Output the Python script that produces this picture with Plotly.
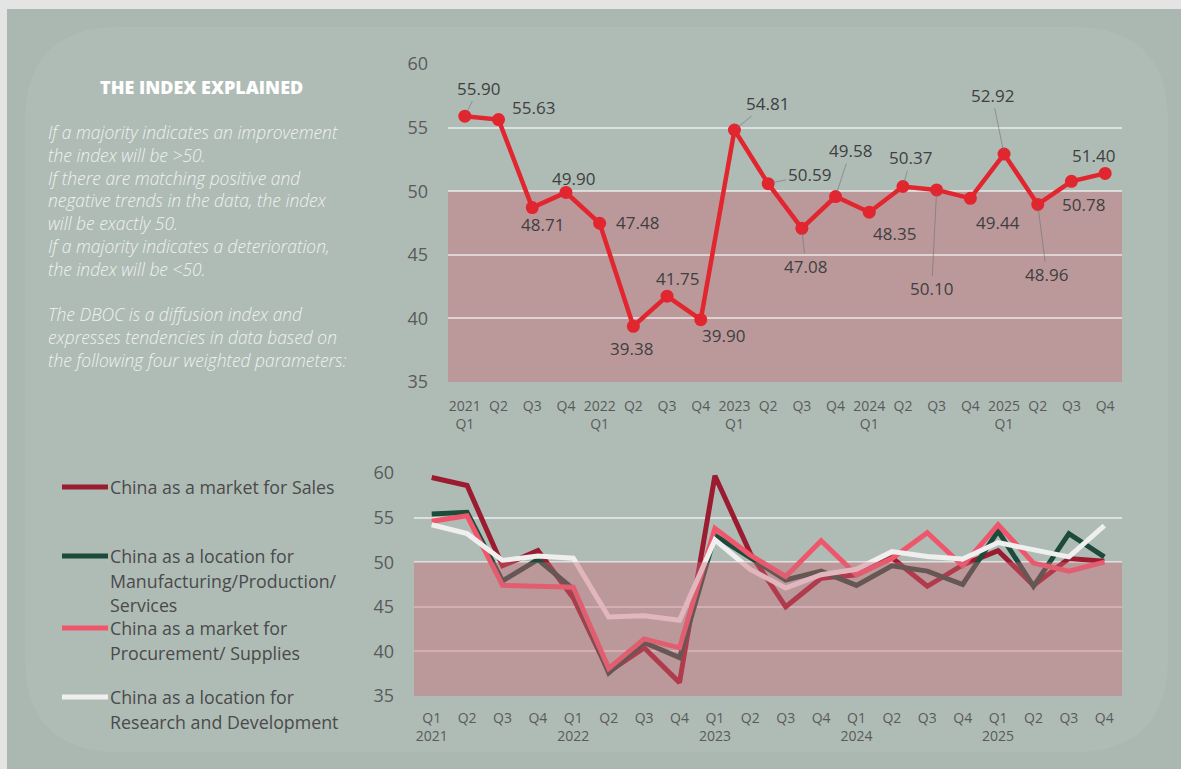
import plotly.graph_objects as go

W, H = 1181, 769

# ---------------- data ----------------
quarters = ["2021 Q1", "2021 Q2", "2021 Q3", "2021 Q4",
            "2022 Q1", "2022 Q2", "2022 Q3", "2022 Q4",
            "2023 Q1", "2023 Q2", "2023 Q3", "2023 Q4",
            "2024 Q1", "2024 Q2", "2024 Q3", "2024 Q4",
            "2025 Q1", "2025 Q2", "2025 Q3", "2025 Q4"]

top_ticktext = ["2021<br>Q1", "Q2", "Q3", "Q4", "2022<br>Q1", "Q2", "Q3", "Q4",
                "2023<br>Q1", "Q2", "Q3", "Q4", "2024<br>Q1", "Q2", "Q3", "Q4",
                "2025<br>Q1", "Q2", "Q3", "Q4"]
bottom_ticktext = ["Q1<br>2021", "Q2", "Q3", "Q4", "Q1<br>2022", "Q2", "Q3", "Q4",
                   "Q1<br>2023", "Q2", "Q3", "Q4", "Q1<br>2024", "Q2", "Q3", "Q4",
                   "Q1<br>2025", "Q2", "Q3", "Q4"]

dboc_index = [55.90, 55.63, 48.71, 49.90, 47.48, 39.38, 41.75, 39.90,
              54.81, 50.59, 47.08, 49.58, 48.35, 50.37, 50.10, 49.44,
              52.92, 48.96, 50.78, 51.40]

sales = [59.5, 58.6, 49.6, 51.3, 46.0, 37.7, 40.4, 36.5,
         59.7, 51.0, 45.0, 48.2, 48.6, 50.5, 47.3, 49.7,
         51.3, 47.4, 50.4, 50.1]
manufacturing = [55.4, 55.6, 47.9, 50.3, 47.0, 37.6, 41.0, 39.3,
                 53.0, 50.5, 48.0, 49.0, 47.4, 49.6, 49.0, 47.5,
                 53.5, 47.3, 53.2, 50.6]
procurement = [54.6, 55.2, 47.4, 47.3, 47.2, 38.1, 41.4, 40.4,
               53.8, 50.8, 48.4, 52.4, 48.6, 50.4, 53.3, 49.6,
               54.2, 49.9, 49.0, 50.0]
research = [54.2, 53.2, 50.2, 50.7, 50.45, 43.85, 44.0, 43.5,
            52.5, 49.2, 47.1, 48.6, 49.2, 51.2, 50.65, 50.35,
            52.2, 51.4, 50.6, 54.1]

series_names = [["China as a market for Sales"],
                ["China as a location for", "Manufacturing/Production/", "Services"],
                ["China as a market for", "Procurement/ Supplies"],
                ["China as a location for", "Research and Development"]]
series_values = [sales, manufacturing, procurement, research]
series_colors = ["#9b1b30", "#1d4b3b", "#ef566b", "#efefef"]

y_ticks = [35, 40, 45, 50, 55, 60]

# label offsets (pixels) and whether a leader line is drawn
label_dx = [14, 35, 10, 8, 38, -2, 10, 23, 33, 41, 4, 15, 25, 8, -5, 28, -12, 9, 12, -12]
label_dy = [-28, -12, 17, -14, -1, 22, -18, 16, -27, -9, 38, -46, 21, -29, 99, 24, -59, 70, 23, -18]
label_leader = [1, 0, 0, 0, 0, 0, 0, 0, 1, 1, 1, 1, 0, 1, 1, 0, 1, 1, 0, 0]

explain_title = "THE INDEX EXPLAINED"
explain_lines = ["If a majority indicates an improvement",
                 "the index will be >50.",
                 "If there are matching positive and",
                 "negative trends in the data, the index",
                 "will be exactly 50.",
                 "If a majority indicates a deterioration,",
                 "the index will be <50.",
                 "",
                 "The DBOC is a diffusion index and",
                 "expresses tendencies in data based on",
                 "the following four weighted parameters:"]


def px(x):
    return x / W


def py(y):
    return 1 - y / H


FONT = "Open Sans, Noto Sans, sans-serif"
TICK_COLOR = "#5a5a5a"

fig = go.Figure()

# top index line
fig.add_trace(go.Scatter(
    x=quarters, y=dboc_index, mode="lines+markers",
    line=dict(color="#e2262f", width=4.5),
    marker=dict(color="#e2262f", size=13),
    xaxis="x", yaxis="y", showlegend=False, hoverinfo="x+y"))

# bottom four series
for name, vals, col in zip(series_names, series_values, series_colors):
    fig.add_trace(go.Scatter(
        x=quarters, y=vals, mode="lines", name=" ".join(name),
        line=dict(color=col, width=5),
        xaxis="x2", yaxis="y2", showlegend=False))

shapes = []
# outer light frame
shapes.append(dict(type="rect", xref="paper", yref="paper",
                   x0=px(7), x1=1.0, y0=0.0, y1=py(9),
                   fillcolor="#abb8b2", line=dict(width=0), layer="below"))
# rounded panel
x0, x1, y0, y1, r = 25, 1168, 27, 752, 95
path = (f"M {px(x0 + r)},{py(y0)} L {px(x1 - r)},{py(y0)} "
        f"Q {px(x1)},{py(y0)} {px(x1)},{py(y0 + r)} "
        f"L {px(x1)},{py(y1 - r)} Q {px(x1)},{py(y1)} {px(x1 - r)},{py(y1)} "
        f"L {px(x0 + r)},{py(y1)} Q {px(x0)},{py(y1)} {px(x0)},{py(y1 - r)} "
        f"L {px(x0)},{py(y0 + r)} Q {px(x0)},{py(y0)} {px(x0 + r)},{py(y0)} Z")
shapes.append(dict(type="path", xref="paper", yref="paper", path=path,
                   fillcolor="rgba(255,255,255,0.06)", line=dict(width=0), layer="below"))
# pink "below 50" bands
shapes.append(dict(type="rect", xref="x domain", yref="y", x0=0, x1=1, y0=35, y1=50,
                   fillcolor="rgba(205,105,120,0.42)", line=dict(width=0), layer="below"))
shapes.append(dict(type="rect", xref="x2 domain", yref="y2", x0=0, x1=1, y0=35, y1=50,
                   fillcolor="rgba(205,105,120,0.42)", line=dict(width=0), layer="above"))

annotations = []
# data labels for top chart
for q, v, dx, dy, lead in zip(quarters, dboc_index, label_dx, label_dy, label_leader):
    annotations.append(dict(
        x=q, y=v, xref="x", yref="y", text=f"{v:.2f}",
        showarrow=True, ax=dx, ay=dy, arrowhead=0, standoff=3,
        arrowwidth=1, arrowcolor="rgba(110,110,110,0.55)" if lead else "rgba(0,0,0,0)",
        font=dict(family=FONT, size=17, color="#404040")))

# explanation panel
annotations.append(dict(x=px(201), y=py(87), xref="paper", yref="paper",
                        text=explain_title, showarrow=False,
                        xanchor="center", yanchor="middle",
                        font=dict(family=FONT, size=18, color="#ffffff", weight=800)))
for i, line in enumerate(explain_lines):
    if not line:
        continue
    annotations.append(dict(x=px(46), y=py(132 + i * 22.8), xref="paper", yref="paper",
                            text=line, showarrow=False, xanchor="left", yanchor="middle",
                            font=dict(family=FONT, size=17.4, color="rgba(255,255,255,0.82)",
                                      style="italic", weight=300)))

# custom legend
legend_y = [487, 556, 628, 697]
for lines, col, ly in zip(series_names, series_colors, legend_y):
    shapes.append(dict(type="line", xref="paper", yref="paper",
                       x0=px(62), x1=px(108), y0=py(ly), y1=py(ly),
                       line=dict(color=col, width=5)))
    for j, t in enumerate(lines):
        annotations.append(dict(x=px(108), y=py(ly + 24.5 * j), xref="paper", yref="paper",
                                text=t, showarrow=False, xanchor="left", yanchor="middle",
                                font=dict(family=FONT, size=17.8, color="#4a4a4a")))

grid_col = "rgba(255,255,255,0.55)"

fig.update_layout(
    width=W, height=H,
    margin=dict(l=0, r=0, t=0, b=0, autoexpand=False),
    paper_bgcolor="#e4e4e4",
    plot_bgcolor="rgba(0,0,0,0)",
    shapes=shapes,
    annotations=annotations,
    showlegend=False,
    xaxis=dict(domain=[px(448), px(1122)], anchor="y", type="category",
               categoryorder="array", categoryarray=quarters, automargin=False,
               range=[-0.5, 19.5], tickmode="array", tickvals=quarters,
               ticktext=top_ticktext, showgrid=False, zeroline=False, showline=False,
               ticks="", ticklabelstandoff=14,
               tickfont=dict(family=FONT, size=14, color=TICK_COLOR)),
    yaxis=dict(domain=[py(382), py(64)], anchor="x", range=[35, 60], automargin=False,
               tickvals=y_ticks, showgrid=True, gridcolor=grid_col, gridwidth=1.5,
               zeroline=False, showline=False, ticks="", ticklabelstandoff=19,
               tickfont=dict(family=FONT, size=18, color=TICK_COLOR)),
    xaxis2=dict(domain=[px(414), px(1122)], anchor="y2", type="category",
                categoryorder="array", categoryarray=quarters, automargin=False,
                range=[-0.5, 19.5], tickmode="array", tickvals=quarters,
                ticktext=bottom_ticktext, showgrid=False, zeroline=False, showline=False,
                ticks="", ticklabelstandoff=12,
                tickfont=dict(family=FONT, size=14, color=TICK_COLOR)),
    yaxis2=dict(domain=[py(696), py(473)], anchor="x2", range=[35, 60], automargin=False,
                tickvals=y_ticks, showgrid=True, gridcolor=grid_col, gridwidth=1.5,
                zeroline=False, showline=False, ticks="", ticklabelstandoff=19,
                tickfont=dict(family=FONT, size=18, color=TICK_COLOR)),
)

fig.write_html("out.html", config={"displayModeBar": False},
               post_script="document.body.style.margin='0';document.body.style.overflow='hidden';")
